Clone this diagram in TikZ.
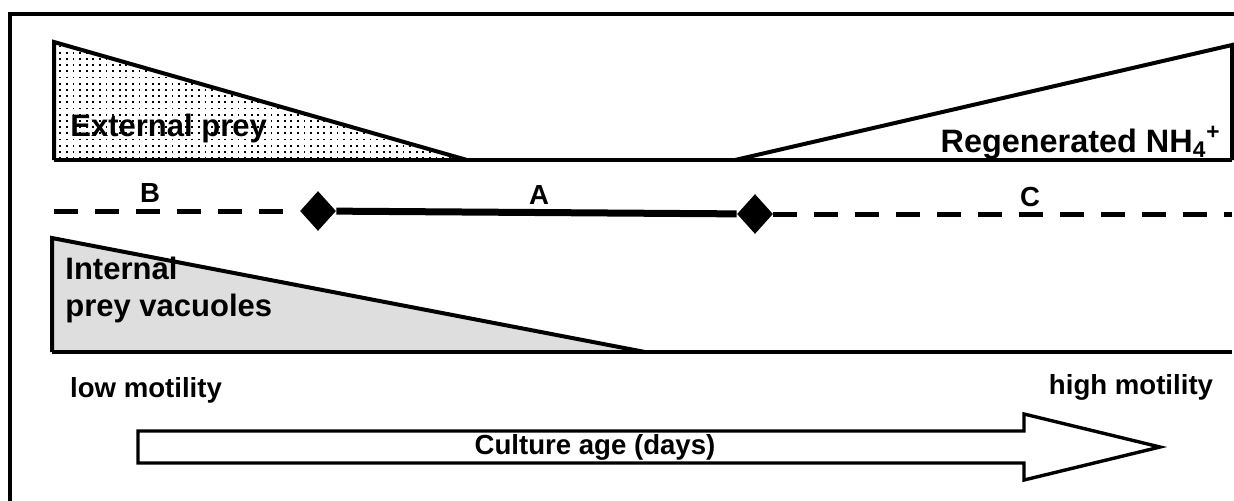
\documentclass[tikz,border=0pt]{standalone}
\usepackage{fontspec}
\setmainfont{Liberation Sans}
\usetikzlibrary{
  positioning,
  shapes.geometric,
  patterns
}

% pontos esparsos para o triangulo das presas externas
\pgfdeclarepatternformonly{pontos}{\pgfqpoint{-1pt}{-1pt}}{\pgfqpoint{4pt}{4pt}}{\pgfqpoint{3.3pt}{3.1pt}}
{\pgfpathrectangle{\pgfqpoint{0pt}{0pt}}{\pgfqpoint{0.9pt}{0.9pt}}\pgfusepath{fill}}

\tikzset{
  rotulo/.style={font=\bfseries\fontsize{15.5}{18}\selectfont, inner sep=0pt},
  rotulomenor/.style={font=\bfseries\fontsize{13.8}{16}\selectfont, inner sep=0pt},
  losango/.style={diamond, fill=black, inner sep=0pt, minimum width=18pt, minimum height=20pt},
  contorno/.style={line width=2pt, line join=miter},
  tracejado/.style={line width=2.5pt, dash pattern=on 12pt off 8.5pt}
}

\begin{document}
\begin{tikzpicture}[x=0.5pt,y=-0.5pt]
        \useasboundingbox (0,0) rectangle (1234,500);

        % Moldura (so os lados de cima e da esquerda aparecem)
        \draw[line width=2pt] (1250,14) -- (10,14) -- (10,520);

        % Linha de base superior
        \draw[line width=1.6pt] (54,160) -- (1232,160);

        % Triangulo pontilhado: presas externas
        \fill[pattern=pontos] (54,42) -- (467,160) -- (54,160) -- cycle;
        \draw[contorno] (54,160) -- (54,42) -- (467,160);
        \node[rotulo, anchor=base west] (externa) at (70,136) {External prey};

        % Triangulo branco: NH4+ regenerado
        \draw[contorno] (735,160) -- (1232,45) -- (1232,160);
        \node[rotulo, font=\bfseries\fontsize{16.2}{18}\selectfont, anchor=base east] (amonio) at (1221,152)
          {Regenerated NH\textsubscript{4}\textsuperscript{+}};

        % Fases B, A e C
        \coordinate (inicioB) at (54,211);
        \coordinate (fimC) at (1232,214);
        \node[losango] (losango1) at (318,211) {};
        \node[losango] (losango2) at (755,214) {};
        \draw[tracejado] (inicioB) -- (losango1.west);
        \draw[line width=3.5pt] (losango1) -- (losango2);
        \draw[tracejado] (losango2.east) -- (fimC);
        \node[rotulomenor] (faseB) at (150,193) {B};
        \node[rotulomenor] (faseA) at (539,195) {A};
        \node[rotulomenor] (faseC) at (1030,197) {C};

        % Triangulo cinza: vacuolos com presas
        \draw[contorno, fill=black!13] (52,352) -- (52,238) -- (645,352);
        \draw[line width=1.6pt] (52,352) -- (1232,352);
        \node[rotulo, anchor=base west] (interna1) at (65,279) {Internal};
        \node[rotulo, anchor=base west] (interna2) at (65,316) {prey vacuoles};

        % Motilidade
        \node[rotulomenor] (baixa) at (146,390) {low motility};
        \node[rotulomenor] (alta) at (1131,387) {high motility};

        % Seta larga: idade da cultura
        \draw[line width=1.7pt] (138,431) -- (1024,431) -- (1024,414) -- (1160,447)
          -- (1024,480) -- (1024,463) -- (138,463) -- cycle;
        \node[rotulomenor] (idade) at (595,447) {Culture age (days)};
    \end{tikzpicture}
\end{document}
